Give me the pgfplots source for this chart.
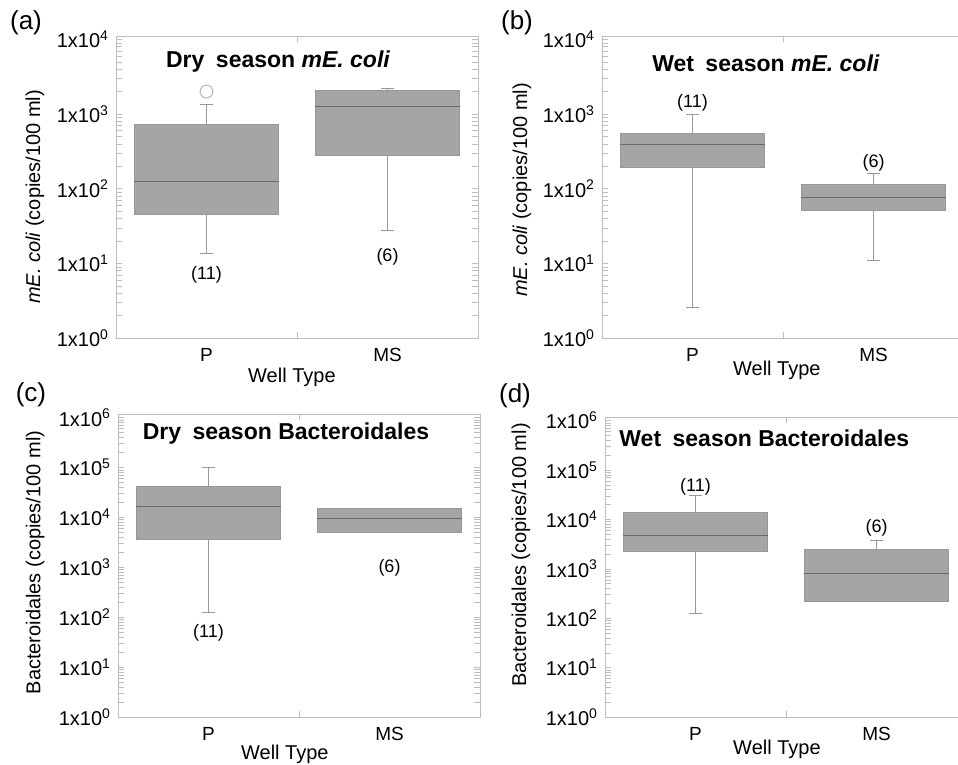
\documentclass[border=0pt]{standalone}
\usepackage{fontspec}
\setmainfont{Liberation Sans}
\usepackage{pgfplots}
\pgfplotsset{compat=1.18}

\definecolor{boxfill}{HTML}{A5A5A5}
\definecolor{boxedge}{HTML}{979797}
\definecolor{medcol}{HTML}{6A6A6A}
\definecolor{framecol}{HTML}{BDBDBD}

\tikzset{
  ttl/.style={font=\bfseries\fontsize{11.5}{13}\selectfont},
  cnt/.style={font=\fontsize{9}{11}\selectfont},
  cat/.style={font=\fontsize{9.5}{11}\selectfont, anchor=north},
}

\pgfplotsset{
  wpanel/.style={
    scale only axis, width=181pt,
    xmin=0, xmax=2, ymin=1,
    clip=false,
    axis line style={framecol},
    tick style={framecol}, major tick length=3pt, tick align=inside,
    xtick={1}, xticklabels={},
    tick label style={font=\fontsize{10}{12}\selectfont},
    label style={font=\fontsize{10}{12}\selectfont},
    xlabel={Well Type},
  },
  whisk/.style={draw=boxedge, line width=0.5pt, mark=none},
  boxst/.style={draw=boxedge, fill=boxfill, line width=0.5pt, mark=none},
  medst/.style={draw=medcol, line width=0.5pt, mark=none},
  outl/.style={only marks, mark=o, mark size=3.2pt,
    mark options={draw=framecol, fill=white, line width=0.6pt}},
}

% box-and-whisker: #1 position, #2 lower whisker, #3 lower quartile,
% #4 median, #5 upper quartile, #6 upper whisker
\newcommand{\wellbox}[6]{%
  \pgfmathsetmacro\boxl{#1-0.4}\pgfmathsetmacro\boxr{#1+0.4}%
  \pgfmathsetmacro\capl{#1-0.035}\pgfmathsetmacro\capr{#1+0.035}%
  \addplot[whisk] coordinates {(#1,#2) (#1,#3)};
  \addplot[whisk] coordinates {(#1,#5) (#1,#6)};
  \addplot[whisk] coordinates {(\capl,#2) (\capr,#2)};
  \addplot[whisk] coordinates {(\capl,#6) (\capr,#6)};
  \addplot[boxst] coordinates {(\boxl,#3) (\boxr,#3) (\boxr,#5) (\boxl,#5) (\boxl,#3)};
  \addplot[medst] coordinates {(\boxl,#4) (\boxr,#4)};
}
\newcommand{\cats}{%
  \node[cat] at (rel axis cs:0.25,-0.01) {P};
  \node[cat] at (rel axis cs:0.75,-0.01) {MS};
}

\begin{document}
\begin{tikzpicture}
\useasboundingbox (0,0) rectangle (479pt,-382.5pt);

% (a) dry season mE. coli
\begin{axis}[wpanel, ymode=log, height=151pt, at={(58pt,-169pt)}, anchor=south west,
  ymax=1.11e4, ytick={1,10,100,1000,10000},
  yticklabels={1x10\textsuperscript{0},1x10\textsuperscript{1},1x10\textsuperscript{2},1x10\textsuperscript{3},1x10\textsuperscript{4}},
  ylabel={\textit{mE. coli} (copies/100 ml)},
  ylabel style={at={(axis description cs:-0.224,0.467)}, anchor=center},
  xlabel style={at={(axis description cs:0.486,-0.129)}, anchor=center}]
\wellbox{0.5}{13.7}{45.6}{126}{714}{1336}
\wellbox{1.5}{27.3}{281}{1270}{2080}{2210}
\addplot[outl] coordinates {(0.5,2000)};
\cats
\node[ttl] at (rel axis cs:0.448,0.914) {Dry\hspace{0.5em}season \textit{mE. coli}};
\node[cnt] at (axis cs:0.5,7.0) {(11)};
\node[cnt] at (axis cs:1.5,12.1) {(6)};
\end{axis}

% (b) wet season mE. coli
\begin{axis}[wpanel, ymode=log, height=151pt, at={(301pt,-169pt)}, anchor=south west,
  ymax=1.11e4, ytick={1,10,100,1000,10000},
  yticklabels={1x10\textsuperscript{0},1x10\textsuperscript{1},1x10\textsuperscript{2},1x10\textsuperscript{3},1x10\textsuperscript{4}},
  ylabel={\textit{mE. coli} (copies/100 ml)},
  ylabel style={at={(axis description cs:-0.221,0.49)}, anchor=center},
  xlabel style={at={(axis description cs:0.483,-0.106)}, anchor=center}]
\wellbox{0.5}{2.6}{192}{385}{552}{1000}
\wellbox{1.5}{10.9}{51}{76}{115}{160}
\cats
\node[ttl] at (rel axis cs:0.453,0.91) {Wet\hspace{0.5em}season \textit{mE. coli}};
\node[cnt] at (axis cs:0.5,1420) {(11)};
\node[cnt] at (axis cs:1.5,224) {(6)};
\end{axis}

% (c) dry season Bacteroidales
\begin{axis}[wpanel, ymode=log, height=151.5pt, at={(59pt,-358.5pt)}, anchor=south west,
  ymax=1.18e6, ytick={1,10,100,1000,10000,100000,1000000},
  yticklabels={1x10\textsuperscript{0},1x10\textsuperscript{1},1x10\textsuperscript{2},1x10\textsuperscript{3},1x10\textsuperscript{4},1x10\textsuperscript{5},1x10\textsuperscript{6}},
  ylabel={Bacteroidales (copies/100 ml)},
  ylabel style={at={(axis description cs:-0.229,0.51)}, anchor=center},
  xlabel style={at={(axis description cs:0.461,-0.122)}, anchor=center}]
\wellbox{0.5}{124}{3600}{16900}{42000}{98400}
\wellbox{1.5}{4900}{4900}{9700}{15000}{15400}
\cats
\node[ttl] at (rel axis cs:0.464,0.937) {Dry\hspace{0.5em}season Bacteroidales};
\node[cnt] at (axis cs:0.5,47.6) {(11)};
\node[cnt] at (axis cs:1.5,970) {(6)};
\end{axis}

% (d) wet season Bacteroidales
\begin{axis}[wpanel, ymode=log, height=150pt, at={(302.5pt,-358.5pt)}, anchor=south west,
  ymax=1.18e6, ytick={1,10,100,1000,10000,100000,1000000},
  yticklabels={1x10\textsuperscript{0},1x10\textsuperscript{1},1x10\textsuperscript{2},1x10\textsuperscript{3},1x10\textsuperscript{4},1x10\textsuperscript{5},1x10\textsuperscript{6}},
  ylabel={Bacteroidales (copies/100 ml)},
  ylabel style={at={(axis description cs:-0.232,0.54)}, anchor=center},
  xlabel style={at={(axis description cs:0.475,-0.107)}, anchor=center}]
\wellbox{0.5}{125}{2270}{4700}{13900}{30600}
\wellbox{1.5}{222}{222}{793}{2415}{3660}
\cats
\node[ttl] at (rel axis cs:0.44,0.93) {Wet\hspace{0.5em}season Bacteroidales};
\node[cnt] at (axis cs:0.5,46500) {(11)};
\node[cnt] at (axis cs:1.5,6700) {(6)};
\end{axis}

\node[font=\fontsize{13}{15}\selectfont] at (13pt,-11.5pt) {(a)};
\node[font=\fontsize{13}{15}\selectfont] at (258.5pt,-11.5pt) {(b)};
\node[font=\fontsize{13}{15}\selectfont] at (15.5pt,-197.5pt) {(c)};
\node[font=\fontsize{13}{15}\selectfont] at (257.5pt,-198pt) {(d)};
\end{tikzpicture}
\end{document}
